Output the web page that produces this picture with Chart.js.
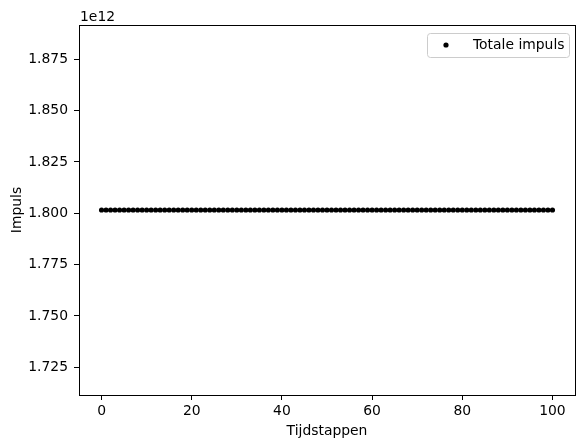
<!DOCTYPE html>
<html>
<head>
	<meta charset="utf-8">
	<title>Totale impuls</title>
	<script src="https://cdn.jsdelivr.net/npm/chart.js@4.4.0/dist/chart.umd.min.js"></script>
	<style type="text/css">
	body{
		margin: 0;
		background-color: #fff;
	}
	#wrap{
		width: 584px;
		height: 448px;
	}
	</style>
</head>
<body>
	<div id="wrap">
		<canvas id="chart" width="584" height="448"></canvas>
	</div>
	<script type="text/javascript">
	// tijdstappen (x)
	var tijdstappen = [0,1,2,3,4,5,6,7,8,9,10,11,12,13,14,15,16,17,18,19,20,
		21,22,23,24,25,26,27,28,29,30,31,32,33,34,35,36,37,38,39,40,
		41,42,43,44,45,46,47,48,49,50,51,52,53,54,55,56,57,58,59,60,
		61,62,63,64,65,66,67,68,69,70,71,72,73,74,75,76,77,78,79,80,
		81,82,83,84,85,86,87,88,89,90,91,92,93,94,95,96,97,98,99,100];
	// totale impuls per tijdstap (constant, ~1.8016e12)
	var impuls = [1.8016e12,1.8016e12,1.8016e12,1.8016e12,1.8016e12,1.8016e12,1.8016e12,1.8016e12,1.8016e12,1.8016e12,1.8016e12,
		1.8016e12,1.8016e12,1.8016e12,1.8016e12,1.8016e12,1.8016e12,1.8016e12,1.8016e12,1.8016e12,1.8016e12,
		1.8016e12,1.8016e12,1.8016e12,1.8016e12,1.8016e12,1.8016e12,1.8016e12,1.8016e12,1.8016e12,1.8016e12,
		1.8016e12,1.8016e12,1.8016e12,1.8016e12,1.8016e12,1.8016e12,1.8016e12,1.8016e12,1.8016e12,1.8016e12,
		1.8016e12,1.8016e12,1.8016e12,1.8016e12,1.8016e12,1.8016e12,1.8016e12,1.8016e12,1.8016e12,1.8016e12,
		1.8016e12,1.8016e12,1.8016e12,1.8016e12,1.8016e12,1.8016e12,1.8016e12,1.8016e12,1.8016e12,1.8016e12,
		1.8016e12,1.8016e12,1.8016e12,1.8016e12,1.8016e12,1.8016e12,1.8016e12,1.8016e12,1.8016e12,1.8016e12,
		1.8016e12,1.8016e12,1.8016e12,1.8016e12,1.8016e12,1.8016e12,1.8016e12,1.8016e12,1.8016e12,1.8016e12,
		1.8016e12,1.8016e12,1.8016e12,1.8016e12,1.8016e12,1.8016e12,1.8016e12,1.8016e12,1.8016e12,1.8016e12,
		1.8016e12,1.8016e12,1.8016e12,1.8016e12,1.8016e12,1.8016e12,1.8016e12,1.8016e12,1.8016e12,1.8016e12];
	var xTicks = [0, 20, 40, 60, 80, 100];
	var yTicks = [1.725e12, 1.750e12, 1.775e12, 1.800e12, 1.825e12, 1.850e12, 1.875e12];

	var FONT = "'DejaVu Sans', sans-serif";
	var FS = 13.9;

	var punten = [];
	for (var i = 0; i < tijdstappen.length; i++) {
		punten.push({x: tijdstappen[i], y: impuls[i]});
	}

	// rand om het plotgebied + "1e12" + legenda in de hoek
	var extras = {
		id: 'extras',
		afterDraw: function(chart){
			var ctx = chart.ctx;
			var a = chart.chartArea;
			ctx.save();
			ctx.strokeStyle = '#000';
			ctx.lineWidth = 1;
			ctx.strokeRect(Math.round(a.left) + 0.5, Math.round(a.top) + 0.5,
				Math.round(a.right - a.left), Math.round(a.bottom - a.top));

			ctx.fillStyle = '#000';
			ctx.font = FS + 'px ' + FONT;
			ctx.textAlign = 'left';
			ctx.textBaseline = 'alphabetic';
			ctx.fillText('1e12', a.left + 1, a.top - 4);

			// legenda
			var bx = a.right - 148, by = a.top + 8, bw = 142, bh = 24;
			ctx.beginPath();
			ctx.roundRect(bx + 0.5, by + 0.5, bw, bh, 3);
			ctx.fillStyle = 'rgba(255,255,255,0.8)';
			ctx.fill();
			ctx.strokeStyle = '#cccccc';
			ctx.stroke();
			ctx.beginPath();
			ctx.arc(bx + 19, by + 12, 2.6, 0, Math.PI * 2);
			ctx.fillStyle = '#000';
			ctx.fill();
			ctx.textBaseline = 'middle';
			ctx.fillText(chart.data.datasets[0].label, bx + 46, by + 12);
			ctx.restore();
		}
	};

	var ctx = document.getElementById('chart').getContext('2d');
	var grafiek = new Chart(ctx, {
		type: 'scatter',
		data: {
			datasets: [{
				label: 'Totale impuls',
				data: punten,
				pointRadius: 2.6,
				pointHoverRadius: 2.6,
				pointBackgroundColor: '#000',
				pointBorderWidth: 0,
				showLine: false
			}]
		},
		options: {
			responsive: false,
			animation: false,
			events: [],
			layout: {
				padding: {left: 0, right: 9, top: 25, bottom: 0}
			},
			plugins: {
				legend: {display: false},
				tooltip: {enabled: false}
			},
			scales: {
				x: {
					type: 'linear',
					min: -5,
					max: 105,
					afterBuildTicks: function(s){ s.ticks = xTicks.map(function(v){ return {value: v}; }); },
					afterFit: function(s){ s.height = 53; },
					grid: {drawOnChartArea: false, drawTicks: true, tickLength: 5, color: '#000'},
					border: {display: false},
					ticks: {color: '#000', font: {family: FONT, size: FS}, padding: 3, maxRotation: 0},
					title: {display: true, text: 'Tijdstappen', color: '#000', font: {family: FONT, size: FS}, padding: {top: 0, bottom: 8}}
				},
				y: {
					type: 'linear',
					min: 1.7115e12,
					max: 1.8917e12,
					afterBuildTicks: function(s){ s.ticks = yTicks.map(function(v){ return {value: v}; }); },
					afterFit: function(s){ s.width = 79; },
					grid: {drawOnChartArea: false, drawTicks: true, tickLength: 5, color: '#000'},
					border: {display: false},
					ticks: {
						color: '#000',
						font: {family: FONT, size: FS},
						padding: 6,
						callback: function(v){ return (v / 1e12).toFixed(3); }
					},
					title: {display: true, text: 'Impuls', color: '#000', font: {family: FONT, size: FS}, padding: {top: 9, bottom: 0}}
				}
			}
		},
		plugins: [extras]
	});
	</script>
</body>
</html>
